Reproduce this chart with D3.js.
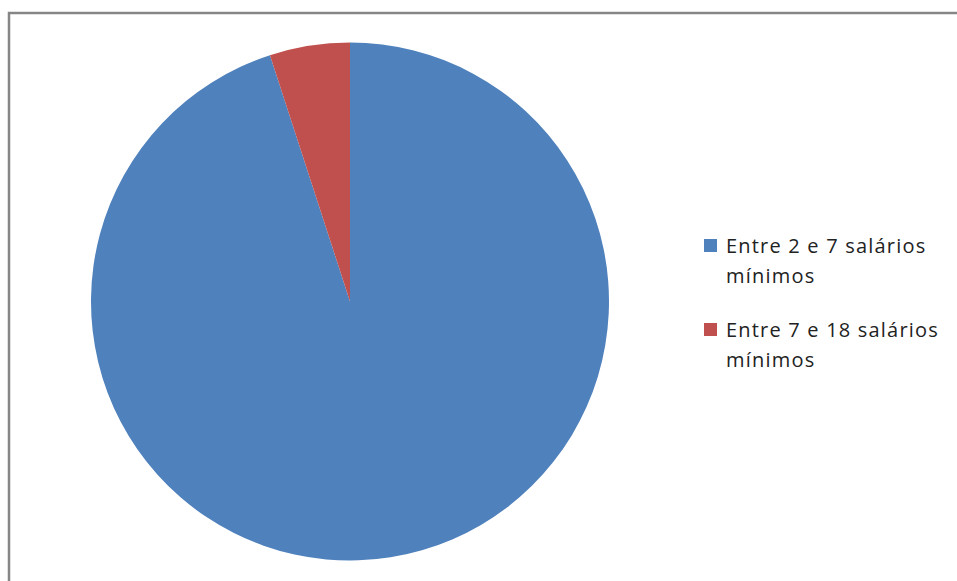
<!DOCTYPE html>
<html>
<head>
<meta charset="utf-8">
<script src="https://cdn.jsdelivr.net/npm/d3@7"></script>
<style>
  body { margin: 0; background: #fff; }
</style>
</head>
<body>
<div id="chart"></div>
<script>
// data
const categories = ["Entre 2 e 7 salários mínimos", "Entre 7 e 18 salários mínimos"];
const values = [95, 5];
const legendLines = [["Entre 2 e 7 salários", "mínimos"], ["Entre 7 e 18 salários", "mínimos"]];
const colors = ["#4F81BD", "#C0504D"];

const width = 957, height = 581;

const svg = d3.select("#chart").append("svg")
    .attr("width", width)
    .attr("height", height);

// chart frame
svg.append("rect")
    .attr("x", 9)
    .attr("y", 13)
    .attr("width", width + 10)
    .attr("height", height + 10)
    .attr("fill", "none")
    .attr("stroke", "#868686")
    .attr("stroke-width", 2.5);

const cx = 350, cy = 301.5, radius = 259;

const pie = d3.pie().sort(null).value(d => d);
const arc = d3.arc().innerRadius(0).outerRadius(radius);

const gPie = svg.append("g")
    .attr("transform", `translate(${cx},${cy})`);

gPie.selectAll("path")
    .data(pie(values))
    .join("path")
      .attr("d", arc)
      .attr("fill", (d, i) => colors[i]);

// legend
const legend = svg.append("g")
    .attr("transform", "translate(704,239)");

const item = legend.selectAll("g")
    .data(categories)
    .join("g")
      .attr("transform", (d, i) => `translate(0,${i * 84})`);

item.append("rect")
    .attr("width", 13)
    .attr("height", 13)
    .attr("fill", (d, i) => colors[i]);

item.append("text")
    .attr("x", 22)
    .attr("y", 14)
    .style("font-family", "'Open Sans', sans-serif")
    .style("font-size", "20px")
    .style("letter-spacing", "1.2px")
    .style("fill", "#222")
    .selectAll("tspan")
    .data((d, i) => legendLines[i])
    .join("tspan")
      .attr("x", 22)
      .attr("dy", (d, j) => j === 0 ? 0 : 30)
      .text(d => d);
</script>
</body>
</html>
